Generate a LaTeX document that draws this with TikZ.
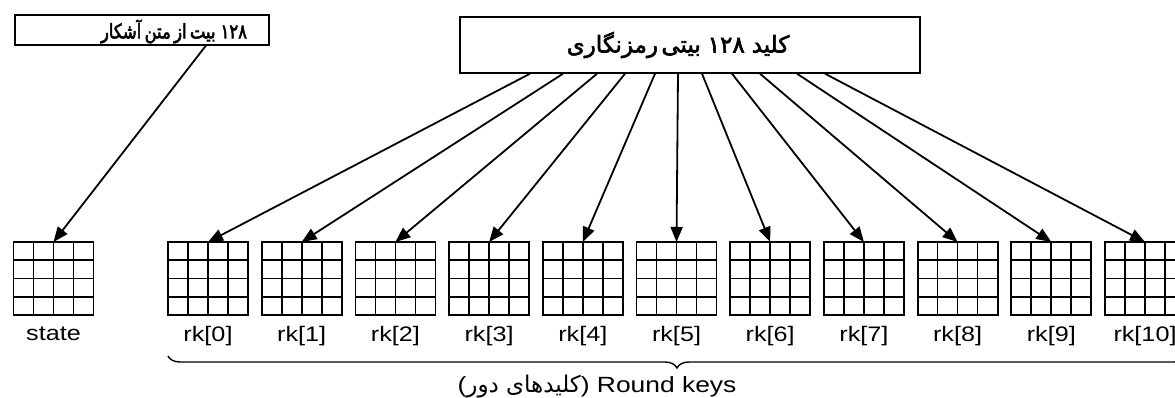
\documentclass[tikz,border=0pt]{standalone}
\usepackage{fontspec}
\usetikzlibrary{arrows.meta,calc,decorations.pathreplacing}
\TeXXeTstate=1
\setmainfont{Liberation Sans}[FakeStretch=1.2]
\newfontfamily\fa[Script=Arabic]{DejaVu Sans}
\newfontfamily\fab[Script=Arabic,FakeBold=2.5]{DejaVu Sans}
\newfontfamily\fac[Script=Arabic,FakeBold=2.5,FakeStretch=0.82]{DejaVu Sans}
\newcommand\cellsof[1]{%
  \foreach \f in {0.25,0.5,0.75}{%
    \draw[cellline] ($(#1.north west)!\f!(#1.north east)$) -- ($(#1.south west)!\f!(#1.south east)$);
    \draw[cellline] ($(#1.north west)!\f!(#1.south west)$) -- ($(#1.north east)!\f!(#1.south east)$);
  }}
\tikzset{
  cellbox/.style={draw, line width=1.8pt, minimum width=80pt, minimum height=73pt, inner sep=0pt, outer sep=0pt},
  cellline/.style={line width=1.7pt},
  keyarrow/.style={line width=1.8pt, -{Triangle[length=15pt,width=12pt]}},
  lbl/.style={font=\fontsize{21}{24}\selectfont, inner sep=0pt, anchor=base},
  topbox/.style={draw, line width=1.4pt, inner ysep=0pt},
  bracestyle/.style={decorate, decoration={brace, mirror, amplitude=12pt}, line width=1.4pt}
}
\begin{document}
\begin{tikzpicture}[x=1pt,y=-1pt]
\useasboundingbox (0,0) rectangle (1175,398);
\clip (0,0) rectangle (1175,398);
% grids
\node[cellbox] (st) at (53.5,278.5) {};
\cellsof{st}
\foreach \i in {0,...,10}{
  \node[cellbox] (rk\i) at ({208+\i*93.7},278.5) {};
  \cellsof{rk\i}
  \node[lbl] (l\i) at ({208+\i*93.7},341) {rk[\i]};
}
\node[lbl] (lst) at (53.5,340) {state};
% top boxes
\node[topbox, text width=210pt, inner xsep=22pt, minimum height=30pt, align=right] (pt) at (142,30)
  {\fac\fontsize{20}{20}\selectfont\raisebox{-1.5pt}[\height][\depth]{\beginR\beginL ۱۲۸\endL\hspace{0.25em}بیت از متن آشکار\endR}};
\node[topbox, text width=436pt, inner xsep=12pt, minimum height=56pt, align=center] (kbox) at (690,45)
  {\fab\fontsize{23}{26}\selectfont\hspace*{-24pt}\beginR کلید\hspace{0.3em}\beginL ۱۲۸\endL\hspace{0.3em}بیتی رمزنگاری\endR};
% arrows
\coordinate (p0) at ($(pt.south west)!0.75!(pt.south east)$);
\draw[keyarrow] (p0) -- (st.north);
\foreach \i/\x in {0/530,1/563,2/597,3/625,4/655,5/678,6/702,7/732,8/760,9/797,10/825}{
  \coordinate (s\i) at (\x,0 |- kbox.south);
  \draw[keyarrow] (s\i) -- (rk\i.north);
}
% brace
\coordinate (b0) at (168,356);
\coordinate (b1) at (1186,356);
\draw[bracestyle] (b0) -- (b1);
\node[lbl, font=\fontsize{22}{24}\selectfont] (rkeys) at (597,392) {({\fa\fontsize{23}{24}\selectfont\beginR کلیدهای دور\endR}) Round keys};
\end{tikzpicture}
\end{document}
